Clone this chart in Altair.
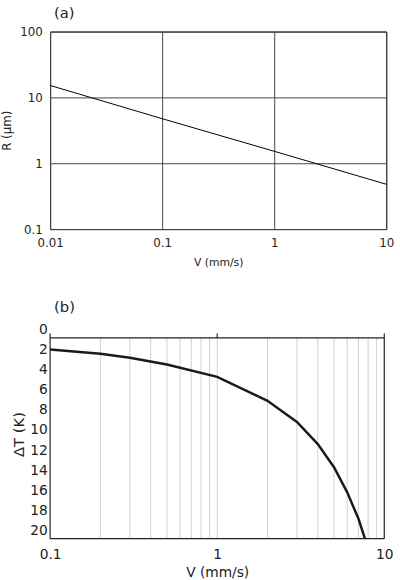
import altair as alt
import pandas as pd

FONT = "DejaVu Sans"

# (a) tip radius R against growth velocity V (log-log)
v_a = [0.01, 0.1, 1, 10]
r_a = [15.2, 4.75, 1.52, 0.48]
a_x_ticks = [0.01, 0.1, 1, 10]
a_y_ticks = [0.1, 1, 10, 100]

# (b) undercooling dT against growth velocity V
v_b = [0.1, 0.2, 0.3, 0.5, 1, 2, 3, 4, 5, 6, 7, 7.66]
dt_b = [2.0, 2.43, 2.82, 3.5, 4.72, 7.1, 9.2, 11.4, 13.7, 16.2, 18.8, 20.8]
b_x_ticks = [0.1, 1, 10]
b_y_ticks = list(range(0, 21, 2))
b_grid = [0.2, 0.3, 0.4, 0.5, 0.6, 0.7, 0.8, 0.9, 1, 2, 3, 4, 5, 6, 7, 8, 9]

# frame limits of panel (b)
V_MIN, V_MAX = 0.1, 10
DT_TOP, DT_BOTTOM, DT_TICK = 0.85, 20.8, 0.42

# ---------- panel (a) ----------
df_a = pd.DataFrame({"V": v_a, "R": r_a})
panel_a = (
    alt.Chart(df_a)
    .mark_line(color="black", strokeWidth=1)
    .encode(
        x=alt.X(
            "V:Q",
            scale=alt.Scale(type="log", domain=[0.01, 10]),
            axis=alt.Axis(
                values=a_x_ticks, format="~g", title="V (mm/s)",
                grid=True, gridColor="#444", gridOpacity=1,
                ticks=False, domain=False, labelFlush=False,
                labelFont=FONT, labelFontSize=12, labelColor="#222", labelPadding=9,
                titleFont=FONT, titleFontSize=11, titleFontWeight="normal",
                titleColor="#222", titlePadding=8,
            ),
        ),
        y=alt.Y(
            "R:Q",
            scale=alt.Scale(type="log", domain=[0.1, 100]),
            axis=alt.Axis(
                values=a_y_ticks, format="~g", title="R (μm)",
                grid=True, gridColor="#444", gridOpacity=1,
                ticks=False, domain=False, labelFlush=False,
                labelFont=FONT, labelFontSize=12, labelColor="#222", labelPadding=8,
                titleFont=FONT, titleFontSize=12, titleFontWeight="normal",
                titleColor="#222", titlePadding=6,
            ),
        ),
    )
    .properties(
        width=342, height=201,
        view=alt.ViewBackground(stroke="black", strokeWidth=1),
        title=alt.TitleParams("(a)", anchor="start", frame="group", fontSize=15,
                              font=FONT, fontWeight="normal", color="#222",
                              offset=5, dx=4),
    )
)

# ---------- panel (b) ----------
x_b = alt.Scale(type="log", domain=[V_MIN, V_MAX])
y_b = alt.Scale(domain=[0, DT_BOTTOM], reverse=True, nice=False, zero=False)

df_b = pd.DataFrame({"V": v_b, "dT": dt_b})
curve_b = (
    alt.Chart(df_b)
    .mark_line(color="#1a1a1a", strokeWidth=2.5)
    .encode(
        x=alt.X(
            "V:Q", scale=x_b,
            axis=alt.Axis(
                values=b_x_ticks, format="~g", title="V (mm/s)",
                grid=False, ticks=False, domain=False, labelFlush=False,
                labelFont=FONT, labelFontSize=14, labelColor="#222", labelPadding=9,
                titleFont=FONT, titleFontSize=14, titleFontWeight="normal",
                titleColor="#222", titlePadding=4,
            ),
        ),
        y=alt.Y(
            "dT:Q", scale=y_b,
            axis=alt.Axis(
                values=b_y_ticks, format="d", title="ΔT (K)",
                grid=False, ticks=False, domain=False, labelFlush=False,
                labelOverlap=False,
                labelFont=FONT, labelFontSize=14, labelColor="#222", labelPadding=3,
                titleFont=FONT, titleFontSize=15, titleFontWeight="normal",
                titleColor="#222", titlePadding=3,
            ),
        ),
    )
)

# light vertical grid at every minor decade step
df_grid = pd.DataFrame({"V": b_grid})
grid_b = (
    alt.Chart(df_grid)
    .mark_rule(color="#d0d0d0", strokeWidth=1)
    .encode(
        x=alt.X("V:Q", scale=x_b, axis=None),
        y=alt.datum(DT_TOP, scale=y_b, axis=None),
        y2=alt.datum(DT_BOTTOM),
    )
)

# box frame with short upward ticks at the decades
df_frame = pd.DataFrame({
    "x": [V_MIN, V_MAX, V_MIN, V_MIN, 1],
    "x2": [V_MIN, V_MAX, V_MAX, V_MAX, 1],
    "y": [DT_TICK, DT_TICK, DT_TOP, DT_BOTTOM, DT_TICK],
    "y2": [DT_BOTTOM, DT_BOTTOM, DT_TOP, DT_BOTTOM, DT_TOP],
})
frame_b = (
    alt.Chart(df_frame)
    .mark_rule(color="#222", strokeWidth=1.2)
    .encode(
        x=alt.X("x:Q", scale=x_b, axis=None),
        x2="x2:Q",
        y=alt.Y("y:Q", scale=y_b, axis=None),
        y2="y2:Q",
    )
)

panel_b = (
    alt.layer(grid_b, frame_b, curve_b)
    .resolve_axis(x="independent", y="independent")
    .properties(
        width=340, height=213,
        view=alt.ViewBackground(stroke=None),
        title=alt.TitleParams("(b)", anchor="start", frame="group", fontSize=15,
                              font=FONT, fontWeight="normal", color="#222",
                              offset=8, dx=4),
    )
)

chart = (
    alt.vconcat(panel_a, panel_b, spacing=32)
    .properties(padding={"left": 0, "top": 0, "right": 5, "bottom": 0}, background="white")
    .configure_view(stroke=None)
)

chart.save("out.html", embed_options={"renderer": "svg", "actions": False})
